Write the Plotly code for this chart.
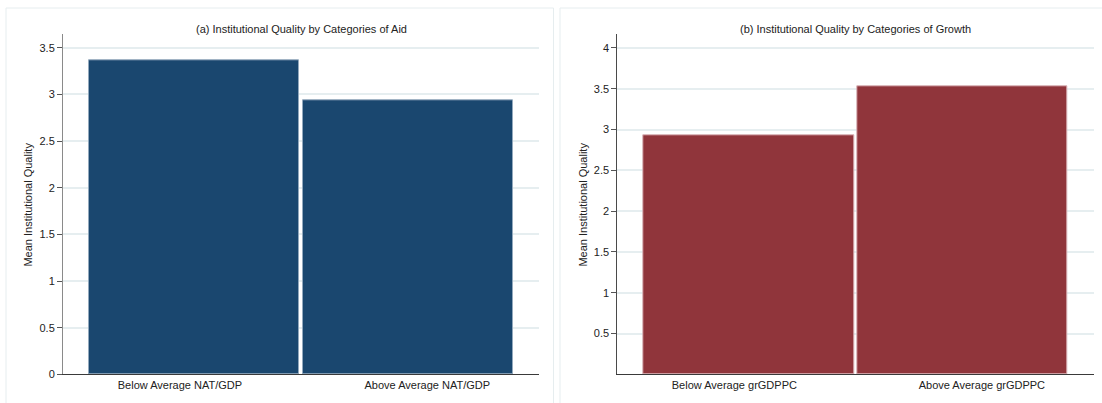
import plotly.graph_objects as go

# Group means of institutional quality
aid_categories = ["Below Average NAT/GDP", "Above Average NAT/GDP"]
aid_means = [3.365, 2.937]

growth_categories = ["Below Average grGDPPC", "Above Average grGDPPC"]
growth_means = [2.933, 3.525]

aid_yticks = [0, 0.5, 1, 1.5, 2, 2.5, 3, 3.5]
aid_ytick_labels = ["0", "0.5", "1", "1.5", "2", "2.5", "3", "3.5"]
growth_yticks = [0.5, 1, 1.5, 2, 2.5, 3, 3.5, 4]
growth_ytick_labels = ["0.5", "1", "1.5", "2", "2.5", "3", "3.5", "4"]

panel_titles = [
    "(a) Institutional Quality by Categories of Aid",
    "(b) Institutional Quality by Categories of Growth",
]
y_title = "Mean Institutional Quality"

W, H = 1102, 403
FONT = "Liberation Sans"
NAVY = "#1a476f"
MAROON = "#90353b"
GRID = "#e6eef0"
FRAME = "#e6edef"


def fx(p):
    return p / W


def fy(p):
    return 1 - p / H


fig = go.Figure()
fig.add_trace(go.Bar(
    x=[0, 1], y=aid_means, width=0.983,
    marker=dict(color=NAVY, line=dict(color="#93a9bd", width=1)),
    xaxis="x", yaxis="y", hoverinfo="skip",
))
fig.add_trace(go.Bar(
    x=[0, 1], y=growth_means, width=0.983,
    marker=dict(color=MAROON, line=dict(color="#d9b3b7", width=1)),
    xaxis="x2", yaxis="y2", hoverinfo="skip",
))

x_common = dict(
    range=[-0.614, 1.614], tickvals=[-0.067, 1.09], ticks="",
    showline=True, linecolor="#3a3a3a", linewidth=1,
    showgrid=False, zeroline=False, fixedrange=True, automargin=False,
    tickfont=dict(family=FONT, size=11, color="#222"),
)
y_common = dict(
    ticks="outside", ticklen=5, tickwidth=1, tickcolor="#555",
    showline=True, linewidth=1,
    showgrid=True, gridcolor=GRID, gridwidth=1.5,
    zeroline=False, fixedrange=True, automargin=False,
    tickfont=dict(family=FONT, size=11, color="#222"),
    domain=[fy(374.3), fy(34.3)],
)

fig.update_layout(
    width=W, height=H,
    margin=dict(l=0, r=0, t=0, b=0, autoexpand=False),
    paper_bgcolor="white", plot_bgcolor="white",
    showlegend=False, bargap=0,
    xaxis=dict(domain=[fx(63), fx(539.3)], anchor="y",
               ticktext=aid_categories, **x_common),
    yaxis=dict(anchor="x", range=[0, 3.644], tickvals=aid_yticks,
               ticktext=aid_ytick_labels, linecolor="#8a8a8a", **y_common),
    xaxis2=dict(domain=[fx(617.3), fx(1094)], anchor="y2",
                ticktext=growth_categories, **x_common),
    yaxis2=dict(anchor="x2", range=[0, 4.167], tickvals=growth_yticks,
                ticktext=growth_ytick_labels, linecolor="#4a4a4a", **y_common),
)

# Light frames around each panel
for x0, x1 in [(6, 553.5), (560, 1108)]:
    fig.add_shape(type="rect", xref="paper", yref="paper",
                  x0=fx(x0), x1=fx(x1), y0=fy(406), y1=fy(8),
                  line=dict(color=FRAME, width=1), layer="below")

# Panel titles and y-axis titles
for title, xc, ytx in [(panel_titles[0], (63 + 539.3) / 2, 28.3),
                       (panel_titles[1], (617.3 + 1094) / 2, 583.3)]:
    fig.add_annotation(text=title, xref="paper", yref="paper",
                       x=fx(xc), y=fy(29), xanchor="center", yanchor="middle",
                       showarrow=False,
                       font=dict(family=FONT, size=11, color="#222"))
    fig.add_annotation(text=y_title, xref="paper", yref="paper",
                       x=fx(ytx), y=fy(204.3), xanchor="center", yanchor="middle",
                       textangle=-90, showarrow=False,
                       font=dict(family=FONT, size=11, color="#222"))

fig.write_html("out.html")
